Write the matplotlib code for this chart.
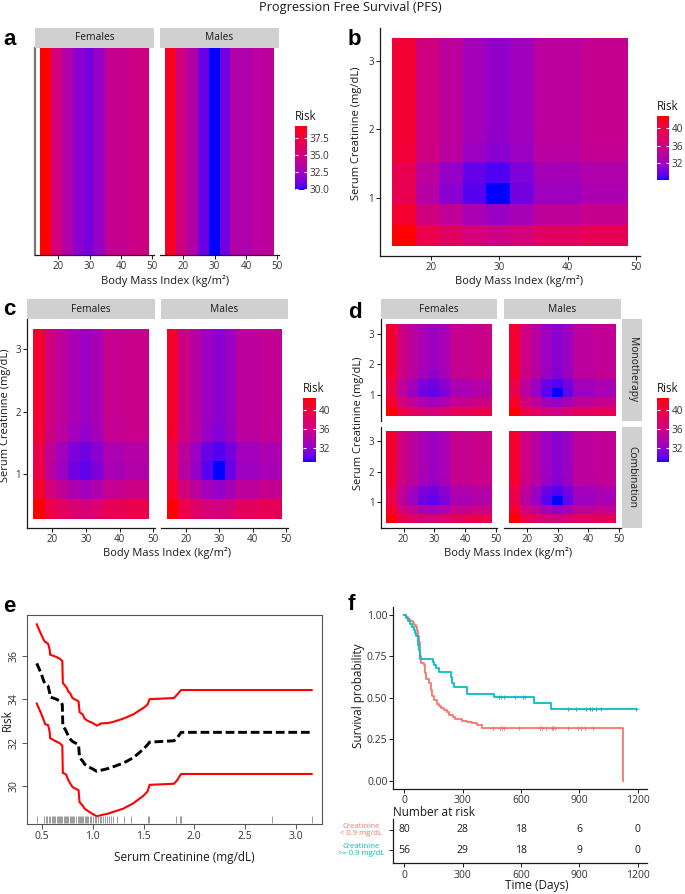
import numpy as np
import matplotlib
matplotlib.use("Agg")
import matplotlib.pyplot as plt
from matplotlib.colors import ListedColormap, Normalize
from matplotlib.cm import ScalarMappable

plt.rcParams['font.family'] = ['Open Sans', 'DejaVu Sans']

# ---------------------------------------------------------------- data
bmi_centers = [16.0, 19.5, 22.9, 26.4, 29.8, 33.3, 36.7, 40.2, 43.6, 47.1]
creat_centers = [0.45, 0.76, 1.06, 1.36, 1.67, 1.97, 2.27, 2.58, 2.88, 3.18]
bmi_ticks = [20, 30, 40, 50]
creat_ticks = [1, 2, 3]
sexes = ["Females", "Males"]
therapies = ["Monotherapy", "Combination"]

# panel a: risk by BMI only, per sex
a_females = [39.3, 35.2, 33.3, 31.7, 31.2, 32.2, 34.3, 34.3, 34.7, 34.8]
a_males = [38.6, 34.9, 33.3, 30.9, 29.9, 31.0, 33.3, 33.3, 33.7, 33.8]

# panel b: risk by BMI (columns) x creatinine (rows, bottom to top)
b_grid = [
    [42.8, 39.4, 38.0, 36.5, 35.8, 36.5, 38.0, 38.0, 38.7, 38.7],
    [41.0, 36.2, 34.5, 32.7, 31.8, 32.7, 34.5, 34.5, 35.3, 35.3],
    [39.0, 33.9, 31.0, 29.2, 28.2, 30.1, 32.1, 32.1, 33.0, 33.0],
    [39.2, 34.2, 31.6, 29.6, 29.0, 30.5, 32.6, 32.6, 33.3, 33.3],
    [40.6, 36.0, 34.0, 32.0, 31.0, 32.0, 34.0, 34.0, 34.8, 34.8],
    [40.7, 36.1, 34.3, 32.4, 31.4, 32.3, 34.2, 34.2, 35.0, 35.0],
    [40.7, 36.1, 34.3, 32.4, 31.4, 32.3, 34.2, 34.2, 35.0, 35.0],
    [40.7, 36.1, 34.3, 32.4, 31.4, 32.3, 34.2, 34.2, 35.0, 35.0],
    [40.7, 36.1, 34.3, 32.4, 31.4, 32.3, 34.2, 34.2, 35.0, 35.0],
    [40.7, 36.1, 34.3, 32.4, 31.4, 32.3, 34.2, 34.2, 35.0, 35.0],
]

# panel c: per sex
c_females = [
    [42.6, 39.7, 38.3, 37.3, 36.9, 37.6, 38.8, 38.8, 39.4, 39.4],
    [41.2, 36.7, 34.9, 33.4, 32.8, 33.5, 35.3, 35.3, 36.0, 36.0],
    [39.7, 34.7, 32.5, 30.6, 30.1, 31.1, 33.2, 33.2, 33.8, 33.8],
    [39.7, 35.0, 32.8, 31.0, 30.6, 31.5, 33.5, 33.5, 34.0, 34.0],
    [40.9, 36.1, 34.4, 32.8, 32.0, 32.9, 35.2, 35.2, 35.6, 35.6],
    [41.0, 36.2, 34.6, 33.1, 32.4, 33.1, 35.3, 35.3, 35.7, 35.7],
    [41.0, 36.2, 34.6, 33.1, 32.4, 33.1, 35.3, 35.3, 35.7, 35.7],
    [41.0, 36.2, 34.6, 33.1, 32.4, 33.1, 35.3, 35.3, 35.7, 35.7],
    [41.0, 36.2, 34.6, 33.1, 32.4, 33.1, 35.3, 35.3, 35.7, 35.7],
    [41.0, 36.2, 34.6, 33.1, 32.4, 33.1, 35.3, 35.3, 35.7, 35.7],
]
c_males = [
    [42.6, 39.7, 38.0, 36.9, 36.5, 37.2, 38.4, 38.4, 38.8, 38.8],
    [41.2, 36.4, 34.6, 32.8, 32.1, 33.0, 34.7, 34.7, 35.3, 35.3],
    [39.7, 34.3, 32.3, 29.9, 28.9, 30.3, 32.5, 32.5, 33.1, 33.1],
    [39.7, 34.6, 32.5, 30.3, 29.8, 30.7, 32.8, 32.8, 33.4, 33.4],
    [40.9, 36.0, 34.1, 32.3, 31.2, 32.3, 34.4, 34.4, 34.9, 34.9],
    [41.0, 36.1, 34.3, 32.5, 31.6, 32.5, 34.5, 34.5, 35.0, 35.0],
    [41.0, 36.1, 34.3, 32.5, 31.6, 32.5, 34.5, 34.5, 35.0, 35.0],
    [41.0, 36.1, 34.3, 32.5, 31.6, 32.5, 34.5, 34.5, 35.0, 35.0],
    [41.0, 36.1, 34.3, 32.5, 31.6, 32.5, 34.5, 34.5, 35.0, 35.0],
    [41.0, 36.1, 34.3, 32.5, 31.6, 32.5, 34.5, 34.5, 35.0, 35.0],
]

# panel d: sex x therapy (rows: therapy, cols: sex)
d_grids = {
    ("Monotherapy", "Females"): c_females,
    ("Monotherapy", "Males"): c_males,
    ("Combination", "Females"): c_females,
    ("Combination", "Males"): c_males,
}

# panel e: partial effect of creatinine with confidence band
e_x = [0.448, 0.49, 0.52, 0.53, 0.56, 0.575, 0.58, 0.64, 0.68, 0.70, 0.705, 0.73,
       0.74, 0.76, 0.78, 0.80, 0.84, 0.86, 0.87, 0.90, 0.92, 0.95, 1.00, 1.04,
       1.08, 1.15, 1.20, 1.30, 1.40, 1.50, 1.54, 1.56, 1.80, 1.83, 1.87, 3.157]
e_upper = [37.45, 37.0, 36.7, 36.65, 36.55, 36.3, 36.05, 35.95, 35.85, 35.75, 34.75, 34.6,
           34.55, 34.35, 34.25, 34.05, 33.95, 33.9, 33.4, 33.3, 33.1, 33.0, 32.9, 32.78,
           32.88, 32.9, 32.95, 33.1, 33.3, 33.6, 33.75, 34.0, 34.05, 34.2, 34.42, 34.42]
e_lower = [33.8, 33.35, 33.0, 32.85, 32.8, 32.5, 32.2, 32.05, 31.95, 31.85, 30.6, 30.55,
           30.5, 30.25, 30.1, 29.95, 29.85, 29.8, 29.25, 29.1, 28.95, 28.85, 28.7, 28.6,
           28.65, 28.72, 28.8, 28.95, 29.2, 29.55, 29.75, 30.05, 30.1, 30.25, 30.55, 30.55]
e_mean = [35.65, 35.2, 34.8, 34.72, 34.6, 34.3, 34.1, 34.0, 33.9, 33.75, 32.75, 32.6,
          32.5, 32.3, 32.15, 32.05, 31.95, 31.9, 31.3, 31.15, 31.0, 30.9, 30.78, 30.67,
          30.72, 30.8, 30.88, 31.05, 31.3, 31.7, 31.9, 32.02, 32.08, 32.2, 32.47, 32.47]
e_rug = [0.448, 0.52, 0.54, 0.55, 0.57, 0.58, 0.60, 0.61, 0.62, 0.63, 0.65, 0.66, 0.67,
         0.68, 0.69, 0.70, 0.72, 0.73, 0.74, 0.75, 0.76, 0.78, 0.79, 0.80, 0.81, 0.82,
         0.83, 0.85, 0.86, 0.87, 0.88, 0.89, 0.90, 0.92, 0.93, 0.94, 0.95, 0.97, 0.98,
         1.00, 1.02, 1.03, 1.05, 1.07, 1.08, 1.10, 1.12, 1.14, 1.16, 1.18, 1.20, 1.24,
         1.31, 1.38, 1.54, 1.55, 1.82, 1.86, 1.87, 2.77, 3.157]
e_xticks = [0.5, 1.0, 1.5, 2.0, 2.5, 3.0]
e_yticks = [30, 32, 34, 36]

# panel f: Kaplan-Meier curves
km_low_time = [0, 10, 20, 30, 42, 52, 60, 66, 72, 76, 80, 88, 100, 108, 112, 125, 135,
               142, 155, 168, 178, 188, 205, 220, 232, 248, 262, 295, 322, 350, 375, 400, 1124]
km_low_surv = [1.0, 0.988, 0.975, 0.963, 0.950, 0.938, 0.925, 0.900, 0.875, 0.838, 0.750,
               0.713, 0.700, 0.650, 0.613, 0.588, 0.550, 0.513, 0.488, 0.463, 0.450, 0.438,
               0.425, 0.413, 0.400, 0.388, 0.375, 0.363, 0.356, 0.350, 0.338, 0.316, 0.0]
km_low_cens = [455, 490, 500, 511, 591, 698, 707, 730, 758, 766, 775, 843, 894, 907, 928, 970]
km_high_time = [0, 8, 18, 28, 38, 48, 56, 62, 68, 72, 76, 80, 148, 155, 163, 178, 240, 246,
                256, 323, 460, 669, 752, 1192]
km_high_surv = [1.0, 0.982, 0.964, 0.946, 0.929, 0.911, 0.893, 0.875, 0.857, 0.821, 0.786,
                0.732, 0.714, 0.696, 0.678, 0.655, 0.625, 0.589, 0.564, 0.523, 0.503, 0.469,
                0.432, 0.432]
km_high_cens = [485, 499, 511, 570, 613, 621, 843, 885, 936, 953, 965, 987, 1013, 1192]
km_groups = ["Creatinine\n< 0.9 mg/dL", "Creatinine\n>= 0.9 mg/dL"]
km_colors = ["#F8766D", "#00BFC4"]
risk_times = [0, 300, 600, 900, 1200]
risk_low = [80, 28, 18, 6, 0]
risk_high = [56, 29, 18, 9, 0]
f_yticks = [0.0, 0.25, 0.5, 0.75, 1.0]

BMI_LABEL = "Body Mass Index (kg/m²)"
CRE_LABEL = "Serum Creatinine (mg/dL)"

# ---------------------------------------------------------------- colour scale (ggplot Lab gradient)
_M = np.array([[0.4124564, 0.3575761, 0.1804375],
               [0.2126729, 0.7151522, 0.0721750],
               [0.0193339, 0.1191920, 0.9503041]])
_WHITE = _M @ np.ones(3)


def _to_lin(c):
    c = np.asarray(c, float)
    return np.where(c <= 0.04045, c / 12.92, ((c + 0.055) / 1.055) ** 2.4)


def _from_lin(c):
    c = np.clip(c, 0, 1)
    return np.where(c <= 0.0031308, 12.92 * c, 1.055 * c ** (1 / 2.4) - 0.055)


def rgb_to_lab(rgb):
    xyz = _M @ _to_lin(rgb) / _WHITE
    d = 6 / 29
    f = np.where(xyz > d ** 3, np.cbrt(xyz), xyz / (3 * d * d) + 4 / 29)
    return np.array([116 * f[1] - 16, 500 * (f[0] - f[1]), 200 * (f[1] - f[2])])


def lab_to_rgb(lab):
    L, a, b = lab
    fy = (L + 16) / 116
    f = np.array([fy + a / 500, fy, fy - b / 200])
    d = 6 / 29
    xyz = np.where(f > d, f ** 3, 3 * d * d * (f - 4 / 29)) * _WHITE
    return _from_lin(np.linalg.solve(_M, xyz))


_lo, _hi = rgb_to_lab([0, 0, 1]), rgb_to_lab([1, 0, 0])
cmap = ListedColormap([lab_to_rgb(_lo + (_hi - _lo) * t) for t in np.linspace(0, 1, 256)])

# ---------------------------------------------------------------- layout helpers
W, H = 685, 894
fig = plt.figure(figsize=(W / 100, H / 100), dpi=100)
AXC = "#1a1a1a"
TXC = "#333333"
STRIP = "#D0D0D0"


def add_ax(x0, y0, x1, y1, **kw):
    return fig.add_axes([x0 / W, 1 - y1 / H, (x1 - x0) / W, (y1 - y0) / H], **kw)


def ftext(x, y, s, **kw):
    return fig.text(x / W, 1 - y / H, s, **kw)


def edges(c):
    c = np.asarray(c, float)
    w = c[1] - c[0]
    mids = (c[:-1] + c[1:]) / 2
    return np.concatenate([[c[0] - w / 2], mids, [c[-1] + w / 2]])


bmi_e = edges(bmi_centers)
cre_e = edges(creat_centers)


def expand(e):
    p = 0.05 * (e[-1] - e[0])
    return (e[0] - p, e[-1] + p)


BMI_LIM = expand(bmi_e)
CRE_LIM = expand(cre_e)


def strip(x0, y0, x1, y1, label, rot=0):
    s = add_ax(x0, y0, x1, y1)
    s.set_facecolor(STRIP)
    s.set_xticks([]); s.set_yticks([])
    for sp in s.spines.values():
        sp.set_visible(False)
    s.text(0.5, 0.5, label, rotation=rot, ha="center", va="center",
           fontsize=7.4, color="#1a1a1a", transform=s.transAxes)


def style(ax, left, bottom, yticks=True):
    for sp in ("top", "right"):
        ax.spines[sp].set_visible(False)
    ax.spines["left"].set_visible(left)
    ax.spines["bottom"].set_visible(bottom)
    for sp in ("left", "bottom"):
        ax.spines[sp].set_color(AXC)
        ax.spines[sp].set_linewidth(0.9)
    ax.set_xlim(*BMI_LIM)
    ax.set_xticks(bmi_ticks)
    ax.tick_params(axis="x", bottom=bottom, labelbottom=bottom, length=3, width=0.7,
                   color=AXC, labelsize=7, pad=1.2, labelcolor=TXC)
    if yticks:
        ax.set_yticks(creat_ticks)
        ax.tick_params(axis="y", left=left, labelleft=left, length=3, width=0.7,
                       color=AXC, labelsize=7, pad=1.5, labelcolor=TXC)
    else:
        ax.set_yticks([])


def heat(ax, Z, norm):
    ax.pcolormesh(bmi_e, cre_e, np.asarray(Z), cmap=cmap, norm=norm,
                  shading="flat", antialiased=False, linewidth=0)
    ax.set_ylim(*CRE_LIM)


def cbar(x0, y0, x1, y1, norm, ticks, fmt):
    cax = add_ax(x0, y0, x1, y1)
    cb = fig.colorbar(ScalarMappable(norm=norm, cmap=cmap), cax=cax)
    cb.outline.set_visible(False)
    cb.set_ticks(ticks)
    cb.set_ticklabels([fmt.format(t) for t in ticks])
    cax.tick_params(which="both", direction="in", color="white", length=2.5, width=0.8,
                    left=True, right=True, labelleft=False, labelright=True,
                    labelsize=7.2, pad=2, labelcolor=TXC)
    cax.minorticks_off()
    ftext(x0, y0 - 3, "Risk", fontsize=8.3, ha="left", va="bottom", color="#1a1a1a")


def letter(x, y, s):
    ftext(x, y, s, fontsize=16, fontweight="bold", family="Liberation Sans",
          ha="left", va="baseline")


# ---------------------------------------------------------------- title
ftext(350, 7, "Progression Free Survival (PFS)", fontsize=9.2, ha="center", va="center",
      color="#1a1a1a")

# ---------------------------------------------------------------- panel a
a_norm = Normalize(min(a_females + a_males), max(a_females + a_males))
for i, (vals, (x0, x1)) in enumerate(zip([a_females, a_males], [(35, 154), (160, 279)])):
    ax = add_ax(x0, 48, x1, 255)
    ax.pcolormesh(bmi_e, [0, 1], np.asarray([vals]), cmap=cmap, norm=a_norm,
                  shading="flat", antialiased=False, linewidth=0)
    ax.set_ylim(0, 1)
    style(ax, left=(i == 0), bottom=True, yticks=False)
    if i == 0:
        ax.spines["left"].set_color("#777777")
        ax.spines["left"].set_linewidth(1.6)
    strip(x0, 28, x1, 47.5, sexes[i])
ftext(165, 281, BMI_LABEL, fontsize=8, ha="center", va="center", color="#1a1a1a")
cbar(295, 126, 307, 190, a_norm, [30, 32.5, 35, 37.5], "{:.1f}")
letter(3, 45, "a")

# ---------------------------------------------------------------- panel b
b_norm = Normalize(np.min(b_grid), np.max(b_grid))
ax = add_ax(380, 28, 640, 256)
heat(ax, b_grid, b_norm)
style(ax, True, True)
ftext(519, 281, BMI_LABEL, fontsize=8, ha="center", va="center", color="#1a1a1a")
ftext(357, 133, CRE_LABEL, fontsize=8, rotation=90, ha="center", va="center",
      color="#1a1a1a")
cbar(657, 116, 669, 180, b_norm, [32, 36, 40], "{:.0f}")
letter(348, 45, "b")

# ---------------------------------------------------------------- panel c
c_all = np.array([c_females, c_males])
c_norm = Normalize(c_all.min(), c_all.max())
for i, (Z, (x0, x1)) in enumerate(zip([c_females, c_males], [(27.3, 155), (161, 288)])):
    ax = add_ax(x0, 319, x1, 528)
    heat(ax, Z, c_norm)
    style(ax, left=(i == 0), bottom=True)
    strip(x0, 299, x1, 319, sexes[i])
ftext(6, 415, CRE_LABEL, fontsize=8, rotation=90, ha="center", va="center",
      color="#1a1a1a")
ftext(167, 553, BMI_LABEL, fontsize=8, ha="center", va="center", color="#1a1a1a")
cbar(303, 398, 316, 462, c_norm, [32, 36, 40], "{:.0f}")
letter(3, 315, "c")

# ---------------------------------------------------------------- panel d
d_all = np.array(list(d_grids.values()))
d_norm = Normalize(d_all.min(), d_all.max())
d_cols = [(380.7, 497.3), (504, 621)]
d_rows = [(319, 420.7), (426.7, 528)]
for r, th in enumerate(therapies):
    for c, sx in enumerate(sexes):
        x0, x1 = d_cols[c]
        y0, y1 = d_rows[r]
        ax = add_ax(x0, y0, x1, y1)
        heat(ax, d_grids[(th, sx)], d_norm)
        style(ax, left=(c == 0), bottom=(r == 1))
        if r == 0:
            strip(x0, 299, x1, 319, sx)
    strip(622, d_rows[r][0], 642, d_rows[r][1], th, rot=-90)
ftext(358, 423, CRE_LABEL, fontsize=8, rotation=90, ha="center", va="center",
      color="#1a1a1a")
ftext(508, 553, BMI_LABEL, fontsize=8, ha="center", va="center", color="#1a1a1a")
cbar(657, 398, 669, 462, d_norm, [32, 36, 40], "{:.0f}")
letter(348, 318, "d")

# ---------------------------------------------------------------- panel e
ax = add_ax(26.7, 615, 321.7, 824.3)
ax.plot(e_x, e_upper, color="red", lw=1.5, solid_joinstyle="miter")
ax.plot(e_x, e_lower, color="red", lw=1.5, solid_joinstyle="miter")
ax.plot(e_x, e_mean, color="black", lw=2.1, dashes=(3, 1.3))
ax.vlines(e_rug, 0.005, 0.04, transform=ax.get_xaxis_transform(), color="#8a8a8a", lw=0.6)
ax.set_xlim(0.349, 3.256)
ax.set_ylim(28.23, 37.88)
ax.set_xticks(e_xticks)
ax.set_xticklabels([f"{v:.1f}" for v in e_xticks])
ax.set_yticks(e_yticks)
ax.set_yticklabels([str(v) for v in e_yticks], rotation=90, va="center")
for sp in ax.spines.values():
    sp.set_color("#555555")
    sp.set_linewidth(0.8)
ax.tick_params(length=3.5, width=0.7, color="#555555", labelsize=7.5, labelcolor=TXC, pad=1.5)
ftext(184, 858, CRE_LABEL, fontsize=8.5, ha="center", va="center", color="#1a1a1a")
ftext(7, 720, "Risk", fontsize=8.5, rotation=90, ha="center", va="center", color="#1a1a1a")
letter(3, 612, "e")

# ---------------------------------------------------------------- panel f
ax = add_ax(393.3, 606.5, 646.7, 789.3)
for t, s, cens, col in [(km_low_time, km_low_surv, km_low_cens, km_colors[0]),
                        (km_high_time, km_high_surv, km_high_cens, km_colors[1])]:
    ax.step(t, s, where="post", color=col, lw=1.3)
    idx = np.searchsorted(t, cens, side="right") - 1
    ax.plot(cens, np.asarray(s)[idx], ls="none", marker="+", ms=3.5, mew=0.7, color=col)
ax.set_xlim(-57, 1247)
ax.set_ylim(-0.05, 1.05)
ax.set_xticks(risk_times)
ax.set_yticks(f_yticks)
ax.set_yticklabels([f"{v:.2f}" for v in f_yticks])
for sp in ("top", "right"):
    ax.spines[sp].set_visible(False)
for sp in ("left", "bottom"):
    ax.spines[sp].set_color(AXC)
    ax.spines[sp].set_linewidth(0.9)
ax.tick_params(length=3, width=0.7, color=AXC, labelsize=7.5, labelcolor=TXC, pad=1.2)
ftext(358, 696, "Survival probability", fontsize=8.5, rotation=90, ha="center",
      va="center", color="#1a1a1a")
letter(348, 610, "f")

ftext(393.3, 815.5, "Number at risk", fontsize=8.5, ha="left", va="baseline",
      color="#1a1a1a")
tb = add_ax(393.3, 819, 646.7, 862.7)
for row, vals in enumerate([risk_low, risk_high]):
    for tt, v in zip(risk_times, vals):
        tb.text(tt, row + 1, str(v), ha="center", va="center", fontsize=7.5, color="#1a1a1a")
tb.set_xlim(-57, 1247)
tb.set_ylim(2.635, 0.45)
tb.set_xticks(risk_times)
tb.set_yticks([1, 2])
tb.set_yticklabels([])
for sp in ("top", "right"):
    tb.spines[sp].set_visible(False)
for sp in ("left", "bottom"):
    tb.spines[sp].set_color(AXC)
    tb.spines[sp].set_linewidth(0.9)
tb.tick_params(length=3, width=0.7, color=AXC, labelsize=7.5, labelcolor=TXC, pad=2)
for row, (g, col) in enumerate(zip(km_groups, km_colors)):
    ftext(361, 830 + 20 * row, g, fontsize=5.6, ha="center", va="center", color=col,
          linespacing=1.1)
ftext(537, 886, "Time (Days)", fontsize=8.5, ha="center", va="center", color="#1a1a1a")

fig.savefig("out.png", dpi=100)
